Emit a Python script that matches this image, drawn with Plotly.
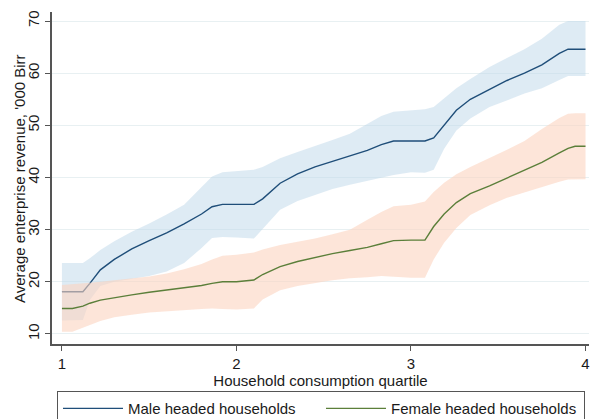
import plotly.graph_objects as go

# Household consumption quartile (smoothed position)
quartile = [1.0, 1.06, 1.12, 1.16, 1.22, 1.3, 1.4, 1.5, 1.6, 1.7, 1.8, 1.86, 1.92,
            2.0, 2.1, 2.15, 2.25, 2.35, 2.45, 2.55, 2.65, 2.75, 2.83, 2.9, 3.0,
            3.08, 3.13, 3.19, 3.26, 3.34, 3.45, 3.55, 3.65, 3.75, 3.85, 3.9, 3.94, 4.0]

# Male headed households: mean and confidence band ('000 Birr)
male_mean = [18.1, 18.1, 18.1, 19.7, 22.3, 24.3, 26.3, 27.9, 29.4, 31.1, 33.0, 34.4, 34.85,
             34.85, 34.85, 35.9, 38.9, 40.7, 42.05, 43.1, 44.2, 45.2, 46.3, 47.0, 47.0,
             47.0, 47.6, 50.1, 52.9, 55.0, 56.9, 58.6, 60.0, 61.6, 63.8, 64.6, 64.6, 64.6]
male_hi = [23.6, 23.6, 23.6, 24.5, 26.1, 27.8, 29.6, 31.2, 32.9, 34.8, 38.3, 40.2, 41.0,
           41.2, 41.5, 42.0, 43.7, 44.9, 46.0, 47.2, 48.4, 50.2, 51.8, 52.6, 52.8,
           53.1, 53.5, 55.2, 57.1, 58.9, 61.2, 62.9, 64.6, 66.6, 69.3, 70.0, 70.0, 70.0]
male_lo = [12.6, 12.6, 12.7, 16.5, 19.2, 20.0, 20.6, 21.1, 22.0, 23.6, 26.5, 28.4, 28.6,
           28.5, 28.3, 30.2, 33.8, 35.5, 36.7, 37.8, 38.6, 39.4, 40.0, 40.5, 41.0,
           40.9, 41.5, 45.5, 49.0, 51.3, 53.5, 54.8, 56.1, 57.1, 58.7, 59.45, 59.45, 59.45]

# Female headed households: mean and confidence band ('000 Birr)
female_mean = [14.9, 14.9, 15.35, 15.9, 16.5, 17.0, 17.5, 18.0, 18.4, 18.8, 19.3, 19.7, 20.0,
               20.0, 20.35, 21.4, 22.9, 23.9, 24.65, 25.4, 26.0, 26.6, 27.3, 27.9, 28.0,
               28.0, 30.6, 33.0, 35.2, 36.9, 38.4, 39.9, 41.3, 42.9, 44.7, 45.6, 46.0, 46.0]
female_hi = [19.4, 19.5, 19.6, 19.8, 20.0, 20.3, 20.6, 21.0, 21.6, 22.4, 23.4, 24.3, 25.0,
             25.2, 25.6, 26.2, 27.05, 27.7, 28.3, 29.1, 30.0, 31.9, 33.4, 34.5, 34.8,
             35.4, 37.2, 39.0, 40.6, 42.0, 43.7, 45.3, 47.0, 49.3, 51.4, 52.2, 52.3, 52.3]
female_lo = [10.45, 10.45, 11.1, 11.7, 12.5, 13.2, 13.7, 14.1, 14.4, 14.6, 14.8, 14.9, 14.8,
             14.7, 14.9, 16.6, 18.4, 19.2, 19.8, 20.3, 20.7, 20.9, 21.1, 21.0, 20.8,
             20.8, 24.3, 27.5, 30.3, 32.8, 34.7, 36.1, 37.2, 38.2, 39.2, 39.6, 39.65, 39.65]

x_ticks = [1, 2, 3, 4]
y_ticks = [10, 20, 30, 40, 50, 60, 70]

MALE_LINE = "#1f4e79"
FEMALE_LINE = "#5b7f3a"
FONT = "Liberation Sans, Arial, sans-serif"
TEXT = "#1a1a1a"


def band(x, lo, hi, fill):
    return go.Scatter(
        x=list(x) + list(x)[::-1],
        y=list(hi) + list(lo)[::-1],
        fill="toself",
        fillcolor=fill,
        line=dict(width=0),
        mode="lines",
        hoverinfo="skip",
        showlegend=False,
    )


fig = go.Figure()
fig.add_trace(band(quartile, male_lo, male_hi, "rgba(190,215,234,0.5)"))
fig.add_trace(go.Scatter(x=quartile, y=male_mean, mode="lines",
                         line=dict(color=MALE_LINE, width=1.4),
                         name="Male headed households"))
fig.add_trace(band(quartile, female_lo, female_hi, "rgba(252,212,192,0.6)"))
fig.add_trace(go.Scatter(x=quartile, y=female_mean, mode="lines",
                         line=dict(color=FEMALE_LINE, width=1.4),
                         name="Female headed households"))

fig.update_layout(
    width=591, height=419,
    margin=dict(l=52, r=2, t=12, b=75, autoexpand=False),
    paper_bgcolor="white",
    plot_bgcolor="white",
    font=dict(family=FONT, size=15, color=TEXT),
    showlegend=True,
    legend=dict(
        orientation="h",
        x=0.0093, xanchor="left",
        y=-0.142, yanchor="top",
        bordercolor="#555555", borderwidth=1,
        bgcolor="white",
        itemwidth=60,
        entrywidth=188,
        font=dict(size=15, family=FONT, color=TEXT),
        traceorder="normal",
    ),
    annotations=[dict(
        text="Average enterprise revenue, '000 Birr",
        textangle=-90,
        xref="paper", yref="paper",
        x=-0.0615, y=0.5,
        xanchor="center", yanchor="middle",
        showarrow=False,
        font=dict(size=15, family=FONT, color=TEXT),
    )],
)

fig.update_xaxes(
    range=[0.943, 4.02],
    tickvals=x_ticks,
    ticks="outside", ticklen=5, tickcolor="#555555", tickwidth=1,
    showline=True, linecolor="#555555", linewidth=1.5,
    showgrid=False, zeroline=False,
    title=dict(text="Household consumption quartile", standoff=2,
               font=dict(size=15, family=FONT, color=TEXT)),
    tickfont=dict(size=15, family=FONT, color=TEXT),
)
fig.update_yaxes(
    range=[8.08, 71.73],
    tickvals=y_ticks,
    tickangle=-90,
    ticks="outside", ticklen=5, tickcolor="#555555", tickwidth=1,
    showline=True, linecolor="#555555", linewidth=1.5,
    showgrid=True, gridcolor="#e8f0f2", gridwidth=1,
    zeroline=False,
    tickfont=dict(size=15, family=FONT, color=TEXT),
)

fig.write_html("out.html")
